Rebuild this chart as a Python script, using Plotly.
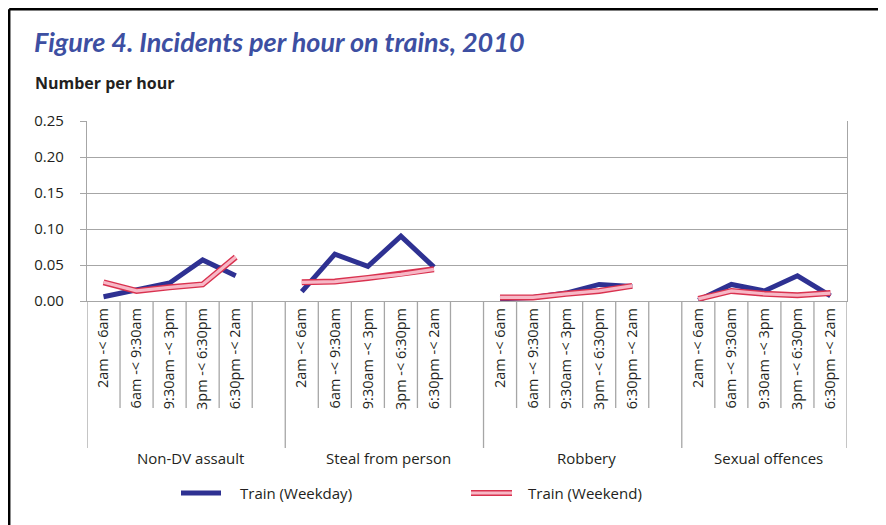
import plotly.graph_objects as go

groups = ["Non-DV assault", "Steal from person", "Robbery", "Sexual offences"]
periods = ["2am -< 6am", "6am -< 9:30am", "9:30am -< 3pm", "3pm -< 6:30pm", "6:30pm -< 2am"]

weekday = [
    [0.006, 0.015, 0.025, 0.057, 0.035],
    [0.013, 0.065, 0.048, 0.090, 0.047],
    [0.003, 0.005, 0.011, 0.023, 0.020],
    [0.001, 0.023, 0.014, 0.035, 0.007],
]
weekend = [
    [0.026, 0.014, 0.019, 0.023, 0.061],
    [0.026, 0.027, 0.032, 0.037, 0.044],
    [0.005, 0.005, 0.010, 0.014, 0.021],
    [0.003, 0.014, 0.010, 0.008, 0.011],
]

SLOTS_PER_GROUP = 6
N_SLOTS = 23

# page offset introduced by the default body margin
OFF = 8
W, H = 886 - OFF, 525 - OFF
# target plot area in page pixels
PL, PR, PT, PB = 87, 847, 121, 301
L, T = PL - OFF, PT - OFF
PW, PH = PR - PL, PB - PT
R = W - L - PW
B = H - T - PH


def px_x(px):
    return (px - PL) / PW


def px_y(py):
    return 1 - (py - PT) / PH


xs, y_wd, y_we = [], [], []
tickvals, ticktext = [], []
for g in range(len(groups)):
    for i, p in enumerate(periods):
        xc = g * SLOTS_PER_GROUP + i + 0.5
        xs.append(xc)
        y_wd.append(weekday[g][i])
        y_we.append(weekend[g][i])
        tickvals.append(xc)
        ticktext.append(p)
    xs.append(None)
    y_wd.append(None)
    y_we.append(None)

NAVY = "#2e3192"
RED = "#d9324f"
PINK = "#f7b8c6"

fig = go.Figure()
fig.add_trace(go.Scatter(x=xs, y=y_wd, mode="lines", name="Train (Weekday)",
                         line=dict(color=NAVY, width=5), showlegend=False,
                         connectgaps=False))
fig.add_trace(go.Scatter(x=xs, y=y_we, mode="lines", name="Train (Weekend)",
                         line=dict(color=RED, width=6), showlegend=False,
                         connectgaps=False))
fig.add_trace(go.Scatter(x=xs, y=y_we, mode="lines", name="Train (Weekend)",
                         line=dict(color=PINK, width=3.2), showlegend=False,
                         connectgaps=False))

shapes = []
GRAY = "#a6a6a6"
for k in range(N_SLOTS + 1):
    long = k in (0, 6, 12, 18, 23)
    shapes.append(dict(type="line", xref="x", yref="paper", x0=k, x1=k,
                       y0=0, y1=px_y(448 if long else 408),
                       line=dict(color=GRAY, width=1.3)))

# outer border (left, top, right edges)
BX0, BX1, BY0, BY1 = 9.2, 881, 9.2, 540
for (xa, ya, xb, yb) in [(BX0, BY0, BX0, BY1), (BX0, BY0, BX1, BY0), (BX1, BY0, BX1, BY1)]:
    shapes.append(dict(type="line", xref="paper", yref="paper",
                       x0=px_x(xa), x1=px_x(xb), y0=px_y(ya), y1=px_y(yb),
                       line=dict(color="black", width=2.5)))

# legend lines
shapes.append(dict(type="line", xref="paper", yref="paper",
                   x0=px_x(181), x1=px_x(221), y0=px_y(493), y1=px_y(493),
                   line=dict(color=NAVY, width=5)))
shapes.append(dict(type="line", xref="paper", yref="paper",
                   x0=px_x(471), x1=px_x(512), y0=px_y(493), y1=px_y(493),
                   line=dict(color=RED, width=6)))
shapes.append(dict(type="line", xref="paper", yref="paper",
                   x0=px_x(471), x1=px_x(512), y0=px_y(493), y1=px_y(493),
                   line=dict(color=PINK, width=3.2)))

FONT = "Open Sans"
TXT = "#231f20"
annotations = []
for g, name in enumerate(groups):
    start = g * SLOTS_PER_GROUP
    end = min(start + SLOTS_PER_GROUP, N_SLOTS)
    annotations.append(dict(x=(start + end) / 2 + 0.12, y=px_y(458), xref="x", yref="paper",
                            text=name, showarrow=False, xanchor="center", yanchor="middle",
                            font=dict(family=FONT, size=15, color=TXT)))

annotations.append(dict(x=px_x(238), y=px_y(493), xref="paper", yref="paper",
                        text="Train (Weekday)", showarrow=False, xanchor="left",
                        yanchor="middle", font=dict(family=FONT, size=15, color=TXT)))
annotations.append(dict(x=px_x(526), y=px_y(493), xref="paper", yref="paper",
                        text="Train (Weekend)", showarrow=False, xanchor="left",
                        yanchor="middle", font=dict(family=FONT, size=15, color=TXT)))
annotations.append(dict(x=px_x(33), y=px_y(83), xref="paper", yref="paper",
                        text="<b>Number per hour</b>", showarrow=False, xanchor="left",
                        yanchor="middle", font=dict(family=FONT, size=16, color=TXT)))
annotations.append(dict(x=px_x(32), y=px_y(41), xref="paper", yref="paper",
                        text="<b><i>Figure 4. Incidents per hour on trains, 2010</i></b>",
                        showarrow=False, xanchor="left", yanchor="middle",
                        font=dict(family="Lato", size=27, color="#3d4fa2")))

fig.update_layout(
    width=W, height=H,
    margin=dict(l=L, r=R, t=T, b=B),
    paper_bgcolor="white", plot_bgcolor="white",
    shapes=shapes, annotations=annotations,
    showlegend=False,
    xaxis=dict(range=[0, N_SLOTS], tickvals=tickvals, ticktext=ticktext,
               tickangle=-90, showgrid=False, zeroline=False, ticks="",
               showline=True, linecolor=GRAY, linewidth=1.3,
               tickfont=dict(family=FONT, size=14.5, color=TXT)),
    yaxis=dict(range=[0, 0.25], dtick=0.05, tickformat=".2f",
               showgrid=True, gridcolor=GRAY, gridwidth=1.3, zeroline=False,
               ticks="outside", ticklen=6, tickcolor=GRAY, tickwidth=1.3,
               ticklabelstandoff=13,
               showline=True, linecolor=GRAY, linewidth=1.3, mirror=True,
               tickfont=dict(family=FONT, size=15, color=TXT)),
)

fig.write_html("out.html")
